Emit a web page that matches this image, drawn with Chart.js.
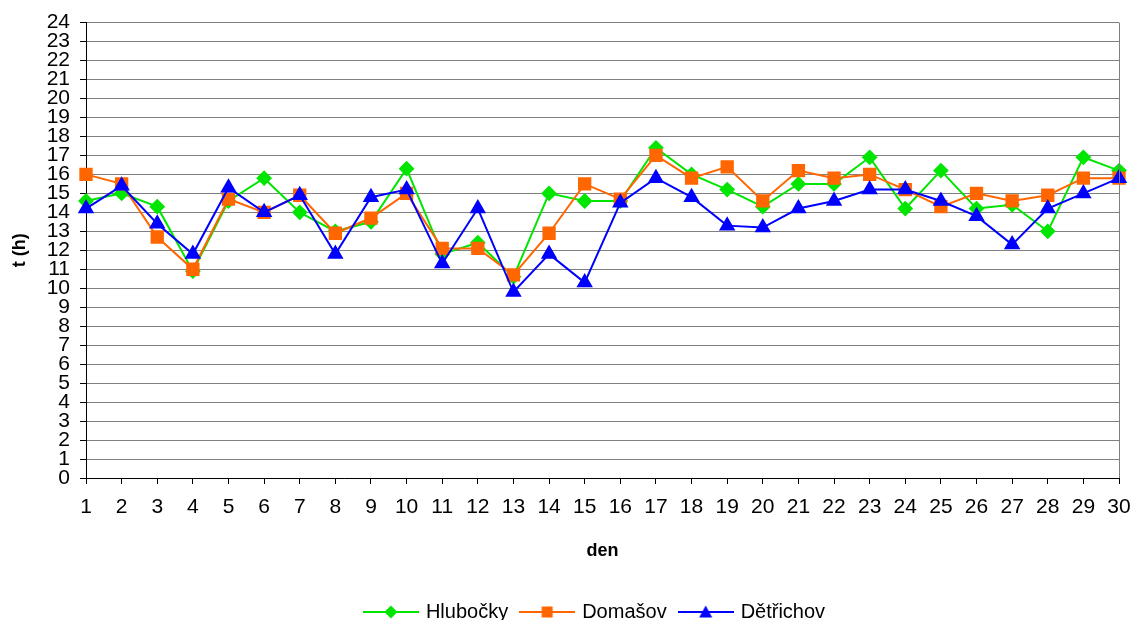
<!DOCTYPE html>
<html>
<head>
<meta charset="utf-8">
<script src="https://cdn.jsdelivr.net/npm/chart.js@4.4.1/dist/chart.umd.min.js"></script>
<style>
  html, body { margin: 0; padding: 0; background: #fff; }
  #wrap { width: 1134px; height: 620px; }
</style>
</head>
<body>
<div id="wrap"><canvas id="myChart" width="1134" height="620"></canvas></div>
<script>
// dny 1..30
const days = [];
for (let d = 1; d <= 30; d++) days.push(String(d));

// hodnoty
const hlubocky = [14.6, 15.0, 14.3, 10.9, 14.6, 15.8, 14.0, 13.0, 13.5, 16.3,
                  11.8, 12.4, 10.6, 15.0, 14.6, 14.6, 17.4, 16.0, 15.2, 14.3,
                  15.5, 15.5, 16.9, 14.2, 16.2, 14.2, 14.4, 13.0, 16.9, 16.2];
const domasov  = [16.0, 15.5, 12.7, 11.0, 14.7, 14.0, 14.9, 12.9, 13.7, 15.0,
                  12.1, 12.1, 10.7, 12.9, 15.5, 14.7, 17.0, 15.8, 16.4, 14.6,
                  16.2, 15.8, 16.0, 15.2, 14.3, 15.0, 14.6, 14.9, 15.8, 15.8];
const detrichov = [14.2, 15.4, 13.4, 11.8, 15.3, 14.0, 14.9, 11.8, 14.8, 15.2,
                   11.3, 14.2, 9.8, 11.8, 10.3, 14.5, 15.8, 14.8, 13.3, 13.2,
                   14.2, 14.6, 15.2, 15.2, 14.6, 13.8, 12.3, 14.2, 15.0, 15.8];

const fontName = "'Liberation Sans', Arial, sans-serif";

// ikonka do legendy: cara + znacka
function legendIcon(color, shape) {
  const c = document.createElement('canvas');
  c.width = 56; c.height = 16;
  const g = c.getContext('2d');
  g.strokeStyle = color; g.lineWidth = 2;
  g.beginPath(); g.moveTo(0, 8); g.lineTo(56, 8); g.stroke();
  g.fillStyle = color;
  g.beginPath();
  if (shape == 'diamond') {
    g.moveTo(28, 1.5); g.lineTo(34.5, 8); g.lineTo(28, 14.5); g.lineTo(21.5, 8);
  } else if (shape == 'square') {
    g.rect(22.5, 2.5, 11, 11);
  } else {
    g.moveTo(28, 1.5); g.lineTo(34.5, 13.5); g.lineTo(21.5, 13.5);
  }
  g.closePath(); g.fill();
  return c;
}

// seda prava hrana plochy grafu + posun legendy pod stred plochy
const frame = {
  id: 'frame',
  afterLayout(chart) {
    const lg = chart.legend;
    if (lg) { lg.left += 36; lg.right += 36; }
  },
  afterDraw(chart) {
    const a = chart.chartArea, ctx = chart.ctx;
    ctx.save();
    ctx.strokeStyle = '#808080'; ctx.lineWidth = 1;
    ctx.beginPath();
    ctx.moveTo(Math.round(a.right) + 0.5, a.top);
    ctx.lineTo(Math.round(a.right) + 0.5, a.bottom);
    ctx.stroke();
    ctx.restore();
  }
};

const green = '#00e600', orange = '#ff6600', blue = '#0000ff';
const icons = [legendIcon(green, 'diamond'), legendIcon(orange, 'square'), legendIcon(blue, 'triangle')];

const ctx = document.getElementById('myChart').getContext('2d');
new Chart(ctx, {
  type: 'line',
  data: {
    labels: days,
    datasets: [
      { label: 'Hlubočky', data: hlubocky, borderColor: green, backgroundColor: green,
        pointStyle: 'rectRot', pointRadius: 6.5, borderWidth: 2, order: 2 },
      { label: 'Domašov', data: domasov, borderColor: orange, backgroundColor: orange,
        pointStyle: 'rect', pointRadius: 8, borderWidth: 2, order: 1 },
      { label: 'Dětřichov', data: detrichov, borderColor: blue, backgroundColor: blue,
        pointStyle: 'triangle', pointRadius: 7.5, borderWidth: 2, order: 0 }
    ]
  },
  options: {
    responsive: false,
    animation: false,
    layout: { autoPadding: false, padding: { top: 22, right: 15, left: 0, bottom: -12 } },
    elements: { line: { tension: 0 }, point: { borderWidth: 0 } },
    plugins: {
      tooltip: { enabled: false },
      legend: {
        position: 'bottom',
        labels: {
          color: '#000',
          font: { family: fontName, size: 20 },
          usePointStyle: true,
          pointStyleWidth: 50,
          boxHeight: 16,
          padding: 14,
          sort: (a, b) => a.datasetIndex - b.datasetIndex,
          generateLabels: (chart) => chart.data.datasets.map((ds, i) => ({
            text: ds.label, pointStyle: icons[i], datasetIndex: i,
            fillStyle: ds.borderColor, strokeStyle: ds.borderColor, lineWidth: 0, hidden: false
          }))
        }
      }
    },
    scales: {
      x: {
        offset: false,
        afterFit: (s) => { s.height = 110; s.paddingLeft = 0; s.paddingRight = 0; },
        grid: { drawOnChartArea: false, color: '#000', tickColor: '#000', tickLength: 6 },
        border: { color: '#000', width: 1 },
        ticks: { color: '#000', font: { family: fontName, size: 21 }, padding: 11, maxRotation: 0, autoSkip: false },
        title: { display: true, text: 'den', color: '#000', font: { family: fontName, size: 18, weight: 'bold' }, padding: { top: 0, bottom: 26 } }
      },
      y: {
        min: 0, max: 24,
        afterFit: (s) => { s.width = 86; },
        grid: { color: '#808080', tickColor: '#000', tickLength: 6 },
        border: { color: '#000', width: 1 },
        ticks: { stepSize: 1, autoSkip: false, color: '#000', font: { family: fontName, size: 21 }, padding: 10 },
        title: { display: true, text: 't (h)', color: '#000', font: { family: fontName, size: 18, weight: 'bold' }, padding: { top: 9, bottom: 0 } }
      }
    }
  },
  plugins: [frame]
});
</script>
</body>
</html>
